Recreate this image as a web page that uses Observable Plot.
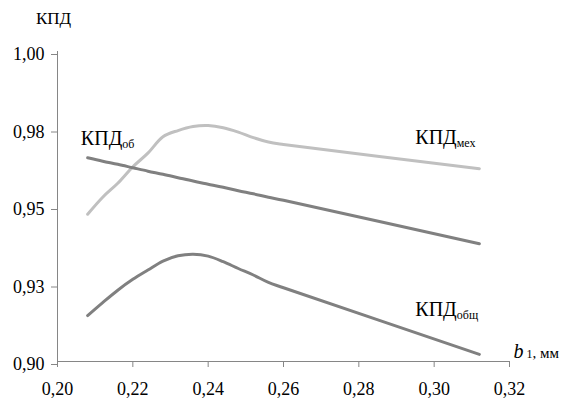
<!DOCTYPE html>
<html><head><meta charset="utf-8">
<script src="https://cdn.jsdelivr.net/npm/d3@7"></script>
<script src="https://cdn.jsdelivr.net/npm/@observablehq/plot@0.6"></script>
<style>
body{margin:0;background:#fff;font-family:"Liberation Serif","Times New Roman",serif}
svg{display:block}
#title{height:32px;box-sizing:border-box;padding:9px 0 0 36px;line-height:20px;font-size:17px;color:#000}
#chart svg, #chart svg text, #chart svg tspan{font-family:"Liberation Serif","Times New Roman",serif}
</style>
</head><body><div id="title"></div><div id="chart"></div>
<script>
// b1, mm
const b1 = [0.208, 0.212, 0.216, 0.220, 0.224, 0.228, 0.232, 0.236, 0.240, 0.244, 0.248, 0.252, 0.256, 0.260, 0.312];
const kpdMex   = [0.9475, 0.9530, 0.9575, 0.9628, 0.9672, 0.9725, 0.9745, 0.9758, 0.9761, 0.9754, 0.9740, 0.9722, 0.9708, 0.9700, 0.9622];
const kpdOb    = [0.9657, 0.9646, 0.9636, 0.9625, 0.9614, 0.9604, 0.9593, 0.9582, 0.9572, 0.9562, 0.9551, 0.9541, 0.9530, 0.9520, 0.9380];
const kpdObsch = [0.9148, 0.9190, 0.9230, 0.9265, 0.9295, 0.9324, 0.9341, 0.9346, 0.9340, 0.9322, 0.9300, 0.9279, 0.9255, 0.9238, 0.9023];

const xTicks = [0.20, 0.22, 0.24, 0.26, 0.28, 0.30, 0.32];
const xTickLabels = ["0,20", "0,22", "0,24", "0,26", "0,28", "0,30", "0,32"];
const yTicks = [0.90, 0.925, 0.95, 0.975, 1.00];
const yTickLabels = ["0,90", "0,93", "0,95", "0,98", "1,00"];

const seriesNames = ["мех", "об", "общ"];
const seriesColors = ["#c0c0c0", "#808080", "#808080"];
const labelMain = ["КПД", "КПД", "КПД"];
const labelSub = ["мех", "об", "общ"];
const labelX = [0.2950, 0.2062, 0.2950];
const labelY = [0.9702, 0.9700, 0.9147];

const yTitle = "КПД";
const xTitleMain = "b";
const xTitleSub = " 1";
const xTitleUnit = ", мм";

document.getElementById("title").textContent = yTitle;

const rows = [];
[kpdMex, kpdOb, kpdObsch].forEach((arr, s) =>
  arr.forEach((v, i) => rows.push({x: b1[i], y: v, s: seriesNames[s]})));
const labelIdx = labelMain.map((_, i) => i);
const axisColor = "#868686";
const serif = "Liberation Serif, serif";

const svg = Plot.plot({
  width: 567, height: 367,
  marginLeft: 57, marginRight: 58, marginTop: 19, marginBottom: 38,
  style: {fontFamily: serif, fontSize: "18px", color: "#000", background: "#fff"},
  x: {domain: [0.20, 0.32]},
  y: {domain: [0.90, 1.00]},
  color: {domain: seriesNames, range: seriesColors},
  marks: [
    Plot.ruleY([0.90], {stroke: axisColor}),
    Plot.ruleX([0.20], {stroke: axisColor}),
    Plot.axisX({ticks: xTicks, tickFormat: d => xTickLabels[xTicks.indexOf(d)], tickSize: 6, tickPadding: 15, stroke: axisColor, fill: "#000", fontFamily: serif, fontSize: 18, label: null}),
    Plot.axisY({ticks: yTicks, tickFormat: d => yTickLabels[yTicks.indexOf(d)], tickSize: 6, tickPadding: 7, dy: 3, stroke: axisColor, fill: "#000", fontFamily: serif, fontSize: 18, label: null}),
    Plot.line(rows, {x: "x", y: "y", z: "s", stroke: "s", strokeWidth: 3, curve: "catmull-rom"}),
    Plot.text(labelIdx, {x: i => labelX[i], y: i => labelY[i], text: i => labelMain[i], textAnchor: "start", lineAnchor: "bottom", fontSize: 20, fontFamily: serif, fill: "#000", ariaLabel: () => "series-label"}),
    Plot.text([xTitleMain], {frameAnchor: "bottom-right", text: d => d, dx: 4, dy: -4, textAnchor: "start", lineAnchor: "bottom", fontSize: 20, fontStyle: "italic", fontFamily: serif, fill: "#000", ariaLabel: () => "x-title"})
  ]
});

d3.select(svg).selectAll('text[aria-label="series-label"]').each(function(_, i) {
  d3.select(this).append("tspan").attr("font-size", 12).attr("dy", 3).text(labelSub[i]);
});
const xt = d3.select(svg).select('text[aria-label="x-title"]');
xt.append("tspan").attr("font-size", 12).attr("font-style", "normal").text(xTitleSub);
xt.append("tspan").attr("font-size", 15).attr("font-style", "normal").text(xTitleUnit);

document.getElementById("chart").append(svg);
</script>
</body></html>
